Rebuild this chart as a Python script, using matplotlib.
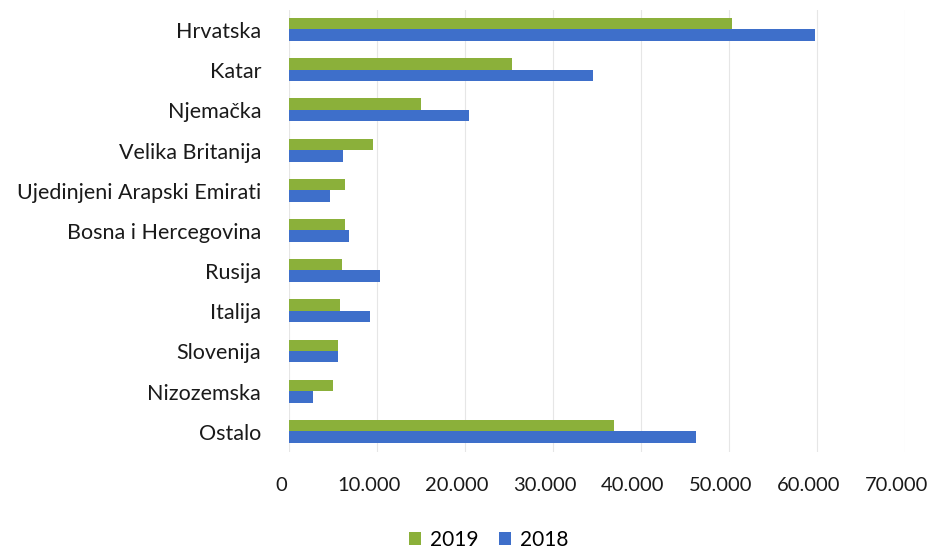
import matplotlib.pyplot as plt
import matplotlib.transforms as mtransforms
import numpy as np
from matplotlib.ticker import FuncFormatter

plt.rcParams['font.family'] = ['Lato', 'DejaVu Sans']

countries = ['Hrvatska', 'Katar', 'Njemačka', 'Velika Britanija', 'Ujedinjeni Arapski Emirati',
             'Bosna i Hercegovina', 'Rusija', 'Italija', 'Slovenija', 'Nizozemska', 'Ostalo']
values_2019 = [50400, 25400, 15000, 9550, 6400, 6350, 6000, 5850, 5600, 5050, 36900]
values_2018 = [59800, 34600, 20500, 6200, 4700, 6800, 10400, 9200, 5550, 2700, 46200]

fig = plt.figure(figsize=(9.32, 5.51), dpi=100)
ax = fig.add_axes([0.310, 0.180, 0.661, 0.802])

y = np.arange(len(countries))
h = 0.29
ax.barh(y - 0.15, values_2019, height=h, color='#8bb03a', label='2019', zorder=3)
ax.barh(y + 0.13, values_2018, height=h, color='#3e6fca', label='2018', zorder=3)

ax.set_ylim(10.5, -0.5)
ax.set_xlim(0, 70000)
ax.set_xticks(np.arange(0, 70001, 10000))
ax.xaxis.set_major_formatter(FuncFormatter(lambda v, p: '{:,.0f}'.format(v).replace(',', '.')))
ax.set_yticks(y)
ax.set_yticklabels(countries)

ax.grid(axis='x', color='#e6e6e6', linewidth=0.8, zorder=0)
for s in ax.spines.values():
    s.set_visible(False)
ax.tick_params(axis='both', length=0, colors='#1a1a1a')
ax.tick_params(axis='x', pad=18, labelsize=14.5)
ax.tick_params(axis='y', pad=20, labelsize=15.5)

# labels sit a little left of the gridlines in the original
shift = mtransforms.ScaledTranslation(-8 / 100, 0, fig.dpi_scale_trans)
for lbl in ax.get_xticklabels():
    lbl.set_transform(lbl.get_transform() + shift)

fig.legend(loc='center', bbox_to_anchor=(0.524, 0.02), ncol=2, frameon=False,
           fontsize=15, handlelength=0.6, handleheight=0.6, handletextpad=0.4,
           columnspacing=1.0)

fig.savefig('out.png', dpi=100)
